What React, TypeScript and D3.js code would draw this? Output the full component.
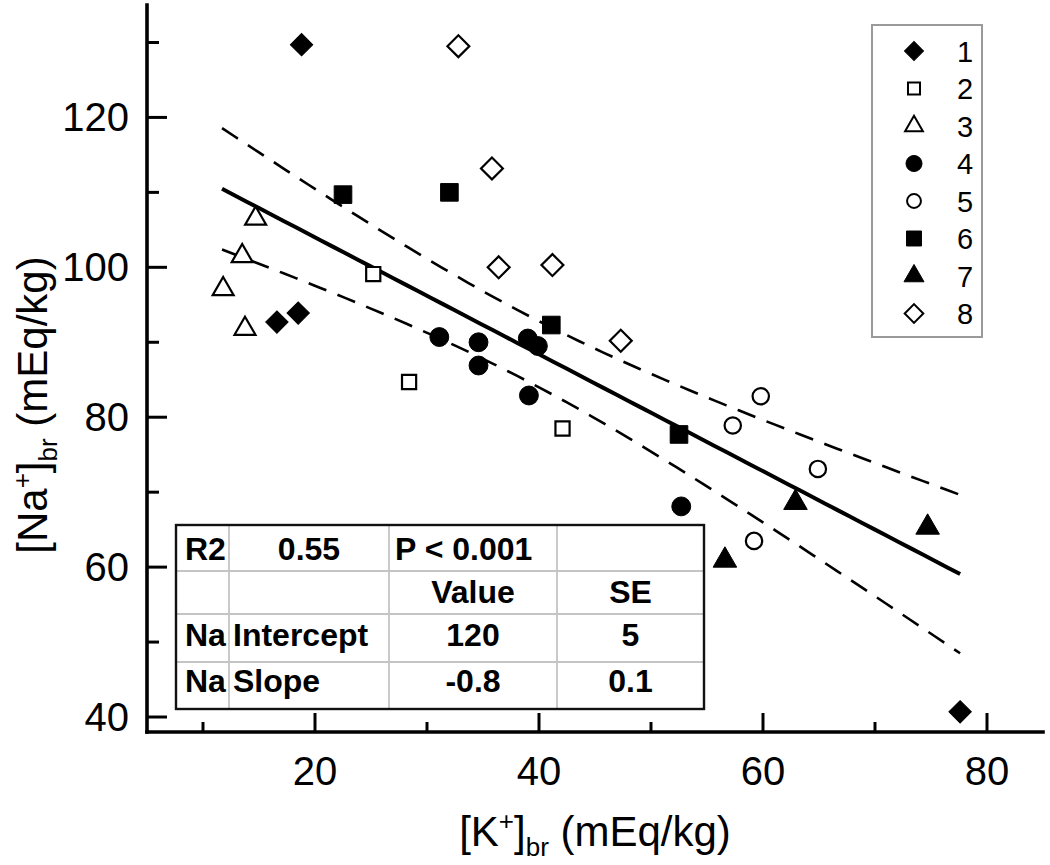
import React from "react";
import * as d3 from "d3";

// ---- data ----
const series1K = [18.8, 16.6, 18.5, 77.6];
const series1Na = [129.7, 92.7, 93.9, 40.7];
const series2K = [25.2, 28.4, 42.1];
const series2Na = [99.1, 84.7, 78.5];
const series3K = [14.7, 13.5, 11.8, 13.75];
const series3Na = [106.5, 101.5, 97.1, 91.8];
const series4K = [31.1, 34.6, 34.6, 39.0, 39.9, 39.1, 52.7];
const series4Na = [90.7, 90.0, 86.9, 90.5, 89.5, 82.9, 68.1];
const series5K = [59.8, 57.3, 64.9, 59.2];
const series5Na = [82.8, 78.9, 73.1, 63.5];
const series6K = [22.5, 32.0, 41.1, 52.5];
const series6Na = [109.7, 110.0, 92.3, 77.7];
const series7K = [62.9, 56.6, 74.7];
const series7Na = [68.6, 60.9, 65.3];
const series8K = [32.8, 35.8, 36.4, 41.2, 47.3];
const series8Na = [129.5, 113.2, 100.0, 100.3, 90.2];

const seriesNames = ["1", "2", "3", "4", "5", "6", "7", "8"];
const seriesShapes = ["diamond", "square", "triangle", "circle", "circle", "square", "triangle", "diamond"];
const seriesFilled = [true, false, false, true, false, true, true, false];

// regression fit and its 95% confidence band
const fitIntercept = 119.6;
const fitSlope = -0.78;
const fitKRange = [11.7, 77.6];
const bandCenterK = 39;
const bandMinHalf = 4.4;
const bandSpread = 0.062;

const xTicksMajor = [20, 40, 60, 80];
const xTicksMinor = [10, 30, 50, 70];
const yTicksMajor = [40, 60, 80, 100, 120];
const yTicksMinor = [50, 70, 90, 110, 130];

const tableCells = [
  ["R2", "0.55", "P < 0.001", ""],
  ["", "", "Value", "SE"],
  ["Na", "Intercept", "120", "5"],
  ["Na", "Slope", "-0.8", "0.1"],
];

const FONT = "'Liberation Sans', Arial, Helvetica, sans-serif";

function markerPath(shape: string, filled: boolean, scale = 1): string {
  let type: any;
  let size: number;
  if (shape === "diamond") { type = d3.symbolSquare; size = (filled ? 250 : 240) * scale * scale; }
  else if (shape === "square") { type = d3.symbolSquare; size = (filled ? 310 : 200) * scale * scale; }
  else if (shape === "triangle") { type = d3.symbolTriangle; size = (filled ? 240 : 190) * scale * scale; }
  else { type = d3.symbolCircle; size = (filled ? 280 : 210) * scale * scale; }
  return d3.symbol().type(type).size(size)() as string;
}

export default function App() {
  const W = 1050, H = 865;
  const x = d3.scaleLinear().domain([5, 85]).range([147, 1043]);
  const y = d3.scaleLinear().domain([38, 135]).range([732, 5]);

  const allSeries = [
    [series1K, series1Na], [series2K, series2Na], [series3K, series3Na], [series4K, series4Na],
    [series5K, series5Na], [series6K, series6Na], [series7K, series7Na], [series8K, series8Na],
  ];

  const fit = (k: number) => fitIntercept + fitSlope * k;
  const half = (k: number) => Math.sqrt(bandMinHalf * bandMinHalf + bandSpread * (k - bandCenterK) ** 2);
  const ks = d3.range(fitKRange[0], fitKRange[1] + 0.001, (fitKRange[1] - fitKRange[0]) / 60);
  const line = d3.line<number>().x((k) => x(k)).y((v, i) => 0);
  const fitLine = d3.line<number>().x((k) => x(k)).y((k) => y(fit(k)));
  const upLine = d3.line<number>().x((k) => x(k)).y((k) => y(fit(k) + half(k)));
  const loLine = d3.line<number>().x((k) => x(k)).y((k) => y(fit(k) - half(k)));
  void line;

  const tableCols = [176, 229, 389, 557, 704];
  const tableRows = [525, 571, 614, 662, 709];
  const tableBase = [560, 603, 646, 692];
  const align = (r: number, c: number) => {
    if (c === 0) return "start";
    if (c === 1) return r === 0 ? "middle" : "start";
    if (c === 2) return r === 0 ? "start" : "middle";
    return "middle";
  };
  const cellX = (r: number, c: number) => {
    const a = align(r, c);
    if (a === "start") return tableCols[c] + (c === 0 ? 9 : c === 1 ? 4 : 6);
    return (tableCols[c] + tableCols[c + 1]) / 2;
  };

  const legendY = (i: number) => 51 + i * 37.5;

  return (
    <svg width={W} height={H} style={{ position: "absolute", left: 0, top: 0, background: "#fff" }} fontFamily={FONT}>
      <rect width={W} height={H} fill="#fff" />
      {/* confidence band and fit */}
      <path d={upLine(ks) as string} fill="none" stroke="#000" strokeWidth={2.6} strokeDasharray="19 12" />
      <path d={loLine(ks) as string} fill="none" stroke="#000" strokeWidth={2.6} strokeDasharray="19 12" />
      <path d={fitLine(ks) as string} fill="none" stroke="#000" strokeWidth={4} />

      {/* points */}
      {allSeries.map(([ks2, nas], si) =>
        ks2.map((k, i) => (
          <path
            key={`${si}-${i}`}
            d={markerPath(seriesShapes[si], seriesFilled[si])}
            transform={`translate(${x(k)},${y(nas[i])})${seriesShapes[si] === "diamond" ? " rotate(45)" : ""}`}
            fill={seriesFilled[si] ? "#000" : "#fff"}
            stroke="#000"
            strokeWidth={seriesFilled[si] ? 1 : 2.2}
          />
        ))
      )}

      {/* axes */}
      <line x1={x(5)} x2={x(85)} y1={732} y2={732} stroke="#000" strokeWidth={3.6} strokeLinecap="square" />
      <line x1={147} x2={147} y1={y(135)} y2={732} stroke="#000" strokeWidth={3.6} strokeLinecap="square" />
      {xTicksMajor.map((t) => (
        <g key={`xm${t}`}>
          <line x1={x(t)} x2={x(t)} y1={732} y2={713} stroke="#000" strokeWidth={3} />
          <text x={x(t)} y={785} textAnchor="middle" fontSize={40}>{t}</text>
        </g>
      ))}
      {xTicksMinor.map((t) => (
        <line key={`xn${t}`} x1={x(t)} x2={x(t)} y1={732} y2={722} stroke="#000" strokeWidth={3} />
      ))}
      {yTicksMajor.map((t) => (
        <g key={`ym${t}`}>
          <line x1={147} x2={167} y1={y(t)} y2={y(t)} stroke="#000" strokeWidth={3} />
          <text x={129} y={y(t) + 14} textAnchor="end" fontSize={40}>{t}</text>
        </g>
      ))}
      {yTicksMinor.map((t) => (
        <line key={`yn${t}`} x1={147} x2={159} y1={y(t)} y2={y(t)} stroke="#000" strokeWidth={3} />
      ))}

      {/* axis titles */}
      <text x={595} y={846} textAnchor="middle" fontSize={42}>
        <tspan>[K</tspan>
        <tspan fontSize={26} dy={-16}>+</tspan>
        <tspan dy={16}>]</tspan>
        <tspan fontSize={26} dy={10}>br</tspan>
        <tspan dy={-10}> (mEq/kg)</tspan>
      </text>
      <text transform="translate(47,405) rotate(-90)" textAnchor="middle" fontSize={42}>
        <tspan>[Na</tspan>
        <tspan fontSize={26} dy={-16}>+</tspan>
        <tspan dy={16}>]</tspan>
        <tspan fontSize={26} dy={10}>br</tspan>
        <tspan dy={-10}> (mEq/kg)</tspan>
      </text>

      {/* legend */}
      <rect x={872} y={25} width={110} height={312} fill="#fff" stroke="#9a9a9a" strokeWidth={2} />
      {seriesNames.map((name, i) => (
        <g key={`lg${i}`}>
          <path
            d={markerPath(seriesShapes[i], seriesFilled[i], 0.85)}
            transform={`translate(914,${legendY(i)})${seriesShapes[i] === "diamond" ? " rotate(45)" : ""}`}
            fill={seriesFilled[i] ? "#000" : "#fff"}
            stroke="#000"
            strokeWidth={seriesFilled[i] ? 1 : 2}
          />
          <text x={965} y={legendY(i) + 10.5} textAnchor="middle" fontSize={29}>{name}</text>
        </g>
      ))}

      {/* stats table */}
      <rect x={tableCols[0]} y={tableRows[0]} width={tableCols[4] - tableCols[0]} height={tableRows[4] - tableRows[0]} fill="#fff" />
      {tableRows.slice(1, 4).map((ry, i) => (
        <line key={`tr${i}`} x1={tableCols[0]} x2={tableCols[4]} y1={ry} y2={ry} stroke="#c4c4c4" strokeWidth={1.8} />
      ))}
      {tableCols.slice(1, 4).map((cx, i) => (
        <line key={`tc${i}`} x1={cx} x2={cx} y1={tableRows[0]} y2={tableRows[4]} stroke="#c4c4c4" strokeWidth={1.8} />
      ))}
      <rect x={tableCols[0]} y={tableRows[0]} width={tableCols[4] - tableCols[0]} height={tableRows[4] - tableRows[0]} fill="none" stroke="#111" strokeWidth={2.4} />
      {tableCells.map((row, r) =>
        row.map((cell, c) => (
          <text key={`t${r}-${c}`} x={cellX(r, c)} y={tableBase[r]} textAnchor={align(r, c)} fontSize={32} fontWeight="bold">
            {cell}
          </text>
        ))
      )}
    </svg>
  );
}
